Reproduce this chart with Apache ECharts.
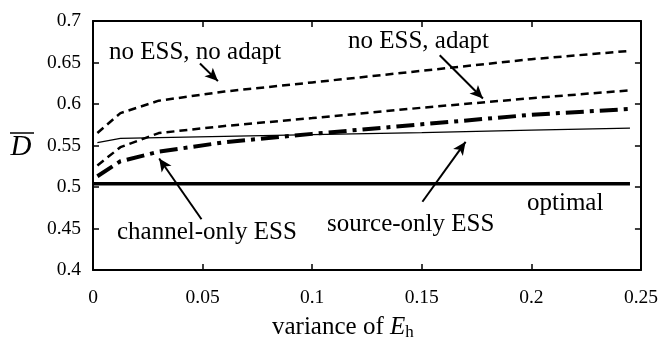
<!DOCTYPE html>
<html>
<head>
<meta charset="utf-8">
<script src="https://cdn.jsdelivr.net/npm/echarts@6/dist/echarts.min.js"></script>
<style>html,body{margin:0;padding:0;background:#fff}#c{width:661px;height:341px}</style>
</head>
<body>
<div id="c"></div>
<script>
// ---- data ----
const xVals = [0.002, 0.0125, 0.03, 0.06, 0.1, 0.15, 0.2, 0.245];
const noEssNoAdapt = [0.565, 0.589, 0.604, 0.615, 0.626, 0.640, 0.654, 0.664];
const noEssAdapt   = [0.526, 0.548, 0.565, 0.5735, 0.583, 0.5955, 0.607, 0.6165];
const channelOnly  = [0.513, 0.531, 0.5425, 0.554, 0.564, 0.5755, 0.587, 0.594];
const sourceOnly   = [0.5535, 0.5585, 0.5595, 0.561, 0.563, 0.5655, 0.5685, 0.571];
const optimalX = [0, 0.245];
const optimalY = [0.504, 0.504];
const xTicks = [0, 0.05, 0.1, 0.15, 0.2, 0.25];
const yTicks = [0.4, 0.45, 0.5, 0.55, 0.6, 0.65, 0.7];
// arrows: [tailX, tailY, tipX, tipY]
const arrows = [
  [0.0488, 0.6487, 0.0570, 0.6276],
  [0.1582, 0.6587, 0.1779, 0.6066],
  [0.0495, 0.4611, 0.0302, 0.5344],
  [0.1503, 0.4822, 0.1700, 0.5544]
];

const pair = (xs, ys) => xs.map((x, i) => [x, ys[i]]);
const FONT = '"Liberation Serif","Times New Roman",Times,serif';

const chart = echarts.init(document.getElementById('c'), null, {renderer: 'canvas'});

const axisCommon = {
  axisLine: {show: true, onZero: false, lineStyle: {color: '#000', width: 2}},
  axisTick: {show: true, inside: true, length: 6, lineStyle: {color: '#000', width: 1.5}},
  splitLine: {show: false}
};

chart.setOption({
  animation: false,
  backgroundColor: '#fff',
  grid: {left: 93, right: 19, top: 21, bottom: 71, containLabel: false},
  xAxis: [
    Object.assign({}, axisCommon, {
      type: 'value', min: xTicks[0], max: xTicks[xTicks.length - 1], interval: 0.05, position: 'bottom',
      axisLabel: {color: '#000', fontFamily: FONT, fontSize: 19.5, margin: 18}
    }),
    Object.assign({}, axisCommon, {
      type: 'value', min: xTicks[0], max: xTicks[xTicks.length - 1], interval: 0.05, position: 'top',
      axisLabel: {show: false}
    })
  ],
  yAxis: [
    Object.assign({}, axisCommon, {
      type: 'value', min: yTicks[0], max: yTicks[yTicks.length - 1], interval: 0.05, position: 'left',
      axisLabel: {color: '#000', fontFamily: FONT, fontSize: 19.5, margin: 12}
    }),
    Object.assign({}, axisCommon, {
      type: 'value', min: yTicks[0], max: yTicks[yTicks.length - 1], interval: 0.05, position: 'right',
      axisLabel: {show: false}
    })
  ],
  series: [
    {
      name: 'optimal', type: 'line', data: pair(optimalX, optimalY), symbol: 'none',
      lineStyle: {color: '#000', width: 3.5},
      markLine: {
        silent: true, symbol: ['none', 'arrow'], symbolSize: [9, 13],
        label: {show: false},
        lineStyle: {color: '#000', width: 2, type: 'solid'},
        data: arrows.map(a => [{coord: [a[0], a[1]]}, {coord: [a[2], a[3]]}])
      }
    },
    {
      name: 'no ESS, no adapt', type: 'line', data: pair(xVals, noEssNoAdapt), symbol: 'none',
      lineStyle: {color: '#000', width: 2.5, type: [8, 5]}
    },
    {
      name: 'no ESS, adapt', type: 'line', data: pair(xVals, noEssAdapt), symbol: 'none',
      lineStyle: {color: '#000', width: 2.5, type: [8, 5]}
    },
    {
      name: 'channel-only ESS', type: 'line', data: pair(xVals, channelOnly), symbol: 'none',
      lineStyle: {color: '#000', width: 4, type: [18, 6, 4, 6]}
    },
    {
      name: 'source-only ESS', type: 'line', data: pair(xVals, sourceOnly), symbol: 'none',
      lineStyle: {color: '#000', width: 1.2}
    }
  ],
  graphic: [
    {type: 'text', x: 109, y: 52, style: {text: 'no ESS, no adapt', font: '25px ' + FONT, fill: '#000', align: 'left', verticalAlign: 'middle'}},
    {type: 'text', x: 348, y: 41, style: {text: 'no ESS, adapt', font: '25px ' + FONT, fill: '#000', align: 'left', verticalAlign: 'middle'}},
    {type: 'text', x: 117, y: 232, style: {text: 'channel-only ESS', font: '25px ' + FONT, fill: '#000', align: 'left', verticalAlign: 'middle'}},
    {type: 'text', x: 327, y: 224, style: {text: 'source-only ESS', font: '25px ' + FONT, fill: '#000', align: 'left', verticalAlign: 'middle'}},
    {type: 'text', x: 527, y: 203, style: {text: 'optimal', font: '25px ' + FONT, fill: '#000', align: 'left', verticalAlign: 'middle'}},
    {type: 'text', x: 272, y: 327, style: {
      text: 'variance of {i|E}{s|h}', font: '25px ' + FONT, fill: '#000', align: 'left', verticalAlign: 'middle',
      rich: {
        i: {fontStyle: 'italic', fontFamily: FONT, fontSize: 25, fill: '#000'},
        s: {fontFamily: FONT, fontSize: 17, fill: '#000', padding: [12, 0, 0, 0]}
      }
    }},
    {type: 'text', x: 21, y: 147, style: {text: 'D', font: 'italic 29px ' + FONT, fill: '#000', align: 'center', verticalAlign: 'middle'}},
    {type: 'line', shape: {x1: 10, y1: 133, x2: 34, y2: 133}, style: {stroke: '#000', lineWidth: 1.5}}
  ]
});
</script>
</body>
</html>
